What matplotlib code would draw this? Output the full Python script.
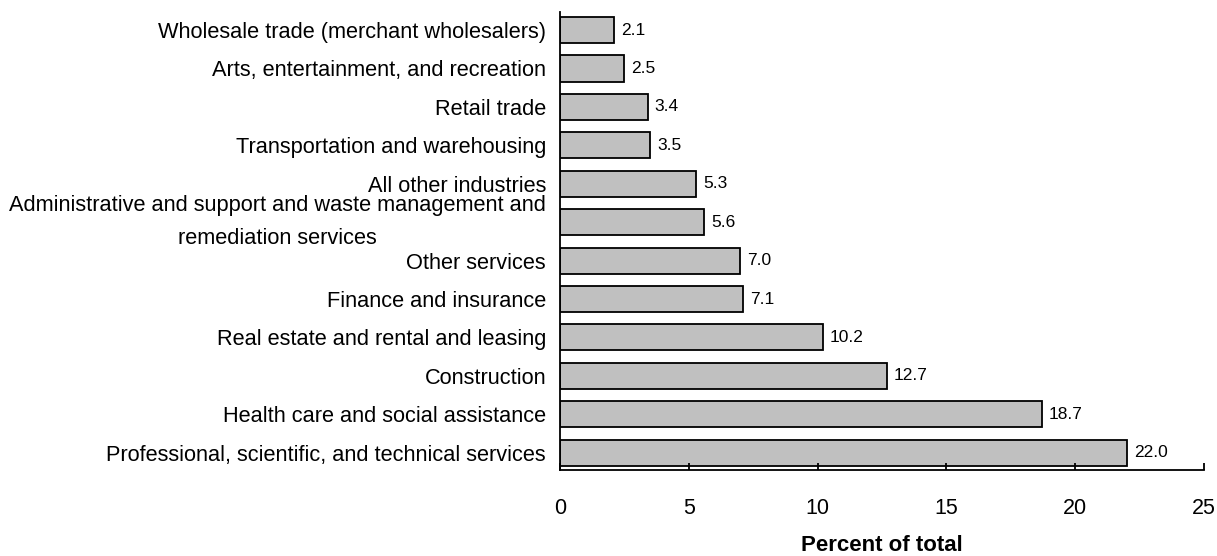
import matplotlib
matplotlib.use("Agg")
import matplotlib.pyplot as plt

categories = [
    "Wholesale trade (merchant wholesalers)",
    "Arts, entertainment, and recreation",
    "Retail trade",
    "Transportation and warehousing",
    "All other industries",
    "Administrative and support and waste management and\nremediation services",
    "Other services",
    "Finance and insurance",
    "Real estate and rental and leasing",
    "Construction",
    "Health care and social assistance",
    "Professional, scientific, and technical services",
]
values = [2.1, 2.5, 3.4, 3.5, 5.3, 5.6, 7.0, 7.1, 10.2, 12.7, 18.7, 22.0]
xticks = [0, 5, 10, 15, 20, 25]
xlabel = "Percent of total"

plt.rcParams['font.family'] = ['Liberation Sans', 'DejaVu Sans']

fig = plt.figure(figsize=(12.17, 5.56), dpi=100)
ax = fig.add_axes([0.4601, 0.1547, 0.9893 - 0.4601, 0.9784 - 0.1547])

pos = list(range(len(categories)))
ax.barh(pos, values, height=0.68, color="#c0c0c0", edgecolor="black", linewidth=1.3)
for p, v in zip(pos, values):
    ax.annotate(f"{v:.1f}", (v, p), xytext=(5, 0), textcoords="offset points",
                va="center", ha="left", fontsize=12.5)

ax.set_ylim(11.45, -0.47)
ax.set_xlim(0, 25)
ax.set_xticks(xticks)
ax.set_xticklabels([str(t) for t in xticks], fontsize=15.5)
ax.set_yticks(pos)
ax.set_yticklabels(categories, fontsize=15.7, multialignment="center", linespacing=1.75)
for lbl in ax.get_yticklabels():
    if "\n" in lbl.get_text():
        lbl.set_va("center")
ax.tick_params(axis="y", length=0, pad=10)
ax.tick_params(axis="x", direction="in", length=5, width=1.3, pad=20)
for s in ["top", "right"]:
    ax.spines[s].set_visible(False)
for s in ["left", "bottom"]:
    ax.spines[s].set_linewidth(1.3)
ax.set_xlabel(xlabel, fontsize=16, fontweight="bold", labelpad=11.5)

fig.savefig("out.png", dpi=100)
